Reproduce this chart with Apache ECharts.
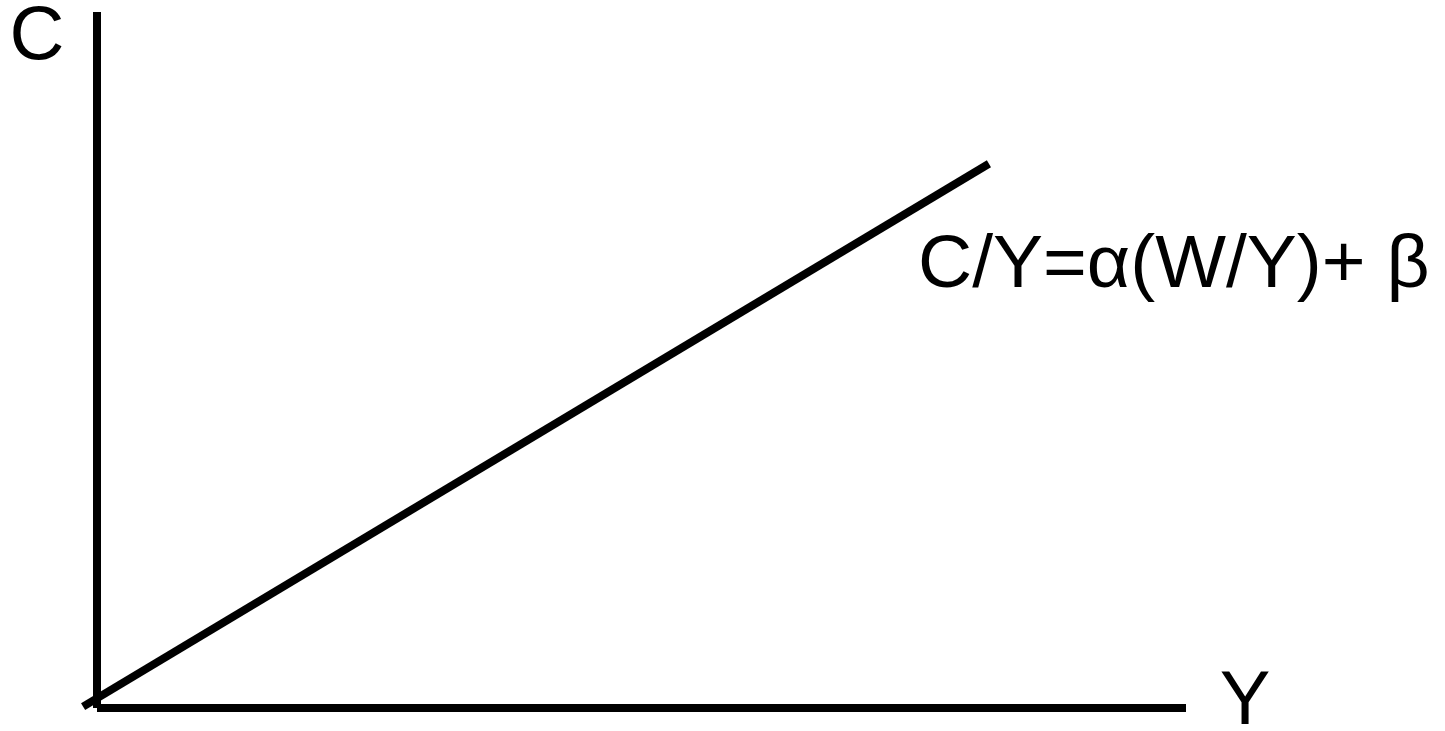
<!DOCTYPE html>
<html>
<head>
<meta charset="utf-8">
<script src="https://cdn.jsdelivr.net/npm/echarts@6/dist/echarts.min.js"></script>
<style>
html,body{margin:0;padding:0;background:#fff;}
#chart{width:1445px;height:731px;}
</style>
</head>
<body>
<div id="chart"></div>
<script>
// Data (axis units 0..100 on both axes)
const lineX = [-1.3, 81.9];
const lineY = [0.2, 78.2];
const yAxisLabel = "C";
const xAxisLabel = "Y";
const equationLabel = "C/Y=\u03b1(W/Y)+ \u03b2";

const chart = echarts.init(document.getElementById('chart'), null, {renderer: 'canvas'});
const font = '"Liberation Sans", Arial, sans-serif';
const hiddenAxis = {axisLine: {show: false}, axisTick: {show: false}, axisLabel: {show: false}, splitLine: {show: false}};
const shownLine = {show: true, onZero: false, lineStyle: {color: '#000', width: 8, cap: 'butt'}};
const option = {
  backgroundColor: '#ffffff',
  animation: false,
  grid: [
    {left: 97, right: 259, top: 12, bottom: 23},
    // same scale as grid 0, widened to the left so the line can start just left of the C axis
    {left: 82, right: 259, top: 12, bottom: 23}
  ],
  xAxis: [
    {gridIndex: 0, type: 'value', min: 0, max: 100, axisLine: shownLine, axisTick: {show: false}, axisLabel: {show: false}, splitLine: {show: false}},
    Object.assign({gridIndex: 1, type: 'value', min: -1.4, max: 100}, hiddenAxis)
  ],
  yAxis: [
    {gridIndex: 0, type: 'value', min: 0, max: 100, axisLine: shownLine, axisTick: {show: false}, axisLabel: {show: false}, splitLine: {show: false}},
    Object.assign({gridIndex: 1, type: 'value', min: 0, max: 100}, hiddenAxis)
  ],
  series: [{
    type: 'line',
    xAxisIndex: 1, yAxisIndex: 1,
    data: lineX.map((x, i) => [x, lineY[i]]),
    clip: false,
    symbol: 'none',
    lineStyle: {color: '#000', width: 8, cap: 'butt'}
  }],
  graphic: [
    {type: 'text', style: {x: 37, y: 38, text: yAxisLabel, font: '76px ' + font, fill: '#000', textAlign: 'center', textVerticalAlign: 'middle'}},
    {type: 'text', style: {x: 1245, y: 703, text: xAxisLabel, font: '76px ' + font, fill: '#000', textAlign: 'center', textVerticalAlign: 'middle'}},
    {type: 'text', style: {x: 918, y: 266, text: equationLabel, font: '75px ' + font, fill: '#000', textAlign: 'left', textVerticalAlign: 'middle'}}
  ]
};
chart.setOption(option);
</script>
</body>
</html>
